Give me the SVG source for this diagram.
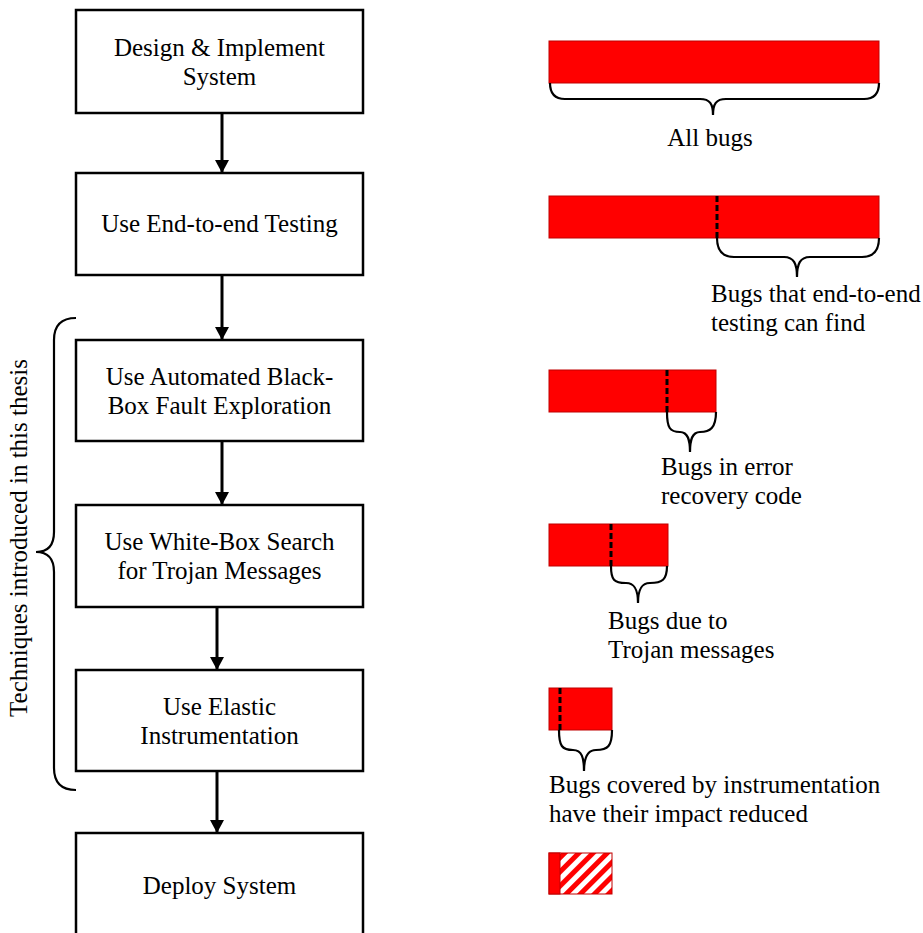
<svg xmlns="http://www.w3.org/2000/svg" width="923" height="933" viewBox="0 0 923 933">
  <style>
    .box { fill: #ffffff; stroke: #000000; stroke-width: 2.5; }
    .lbl { font-family: "Liberation Serif", "Times New Roman", serif; font-size: 25px; fill: #000000; }
    .mid { text-anchor: middle; }
    .edge { stroke: #000000; stroke-width: 3; fill: none; }
    .brace { stroke: #000000; stroke-width: 2.2; fill: none; }
    .bar { fill: #ff0000; stroke: #c00000; stroke-width: 1; }
    .cut { stroke: #000000; stroke-width: 3; stroke-dasharray: 6 3; }
  </style>
  <defs>
    <marker id="arrow" markerWidth="14" markerHeight="14" refX="13" refY="7" orient="auto" markerUnits="userSpaceOnUse">
      <path d="M0,0 L13,7 L0,14 Z" fill="#000000"/>
    </marker>
    <pattern id="hatch" width="10" height="10" patternUnits="userSpaceOnUse" patternTransform="rotate(45)">
      <rect x="0" y="0" width="10" height="10" fill="#ffffff"/>
      <rect x="0" y="0" width="5" height="10" fill="#ff0000"/>
    </pattern>
  </defs>

  <!-- process steps -->
  <g id="step-design">
    <rect class="box" x="76" y="10" width="287" height="103"/>
    <text class="lbl mid" x="219.5" y="56">Design &amp; Implement</text>
    <text class="lbl mid" x="219.5" y="85">System</text>
  </g>
  <g id="step-e2e">
    <rect class="box" x="76" y="173" width="287" height="102"/>
    <text class="lbl mid" x="219.5" y="232">Use End-to-end Testing</text>
  </g>
  <g id="step-blackbox">
    <rect class="box" x="76" y="340" width="287" height="101"/>
    <text class="lbl mid" x="219.5" y="385">Use Automated Black-</text>
    <text class="lbl mid" x="219.5" y="414">Box Fault Exploration</text>
  </g>
  <g id="step-whitebox">
    <rect class="box" x="76" y="505" width="287" height="102"/>
    <text class="lbl mid" x="219.5" y="550">Use White-Box Search</text>
    <text class="lbl mid" x="219.5" y="579">for Trojan Messages</text>
  </g>
  <g id="step-elastic">
    <rect class="box" x="76" y="670" width="287" height="101"/>
    <text class="lbl mid" x="219.5" y="715">Use Elastic</text>
    <text class="lbl mid" x="219.5" y="744">Instrumentation</text>
  </g>
  <g id="step-deploy">
    <rect class="box" x="76" y="833" width="287" height="110"/>
    <text class="lbl mid" x="219.5" y="894">Deploy System</text>
  </g>

  <!-- connectors between steps -->
  <g id="connectors">
    <line class="edge" x1="222" y1="113" x2="222" y2="173" marker-end="url(#arrow)"/>
    <line class="edge" x1="222" y1="275" x2="222" y2="340" marker-end="url(#arrow)"/>
    <line class="edge" x1="222" y1="441" x2="222" y2="505" marker-end="url(#arrow)"/>
    <line class="edge" x1="217" y1="607" x2="217" y2="670" marker-end="url(#arrow)"/>
    <line class="edge" x1="217" y1="771" x2="217" y2="833" marker-end="url(#arrow)"/>
  </g>

  <!-- grouping brace for the thesis techniques -->
  <g id="thesis-group">
    <path class="brace" d="M76,318 Q54,318 54,340 L54,532 Q54,552 36,552 Q54,552 54,572 L54,768 Q54,790 76,790"/>
    <text class="lbl mid" transform="translate(27,538) rotate(-90)">Techniques introduced in this thesis</text>
  </g>

  <!-- bug population bars -->
  <g id="bar-all">
    <rect class="bar" x="549" y="41" width="330" height="42"/>
    <path class="brace" d="M550,83 C550,92 553,99 565,99 L700,99 C710,99 713,104 713,115 C713,104 716,99 726,99 L864,99 C876,99 879,92 879,83"/>
    <text class="lbl mid" x="710" y="146">All bugs</text>
  </g>
  <g id="bar-e2e">
    <rect class="bar" x="549" y="196" width="330" height="42"/>
    <line class="cut" x1="717" y1="196" x2="717" y2="238"/>
    <path class="brace" d="M717,238 C717,250 722,257 734,257 L784,257 C794,257 797,264 797,277 C797,264 800,257 810,257 L862,257 C874,257 879,250 879,238"/>
    <text class="lbl" x="711" y="302">Bugs that end-to-end</text>
    <text class="lbl" x="711" y="331">testing can find</text>
  </g>
  <g id="bar-recovery">
    <rect class="bar" x="549" y="370" width="167" height="42"/>
    <line class="cut" x1="667" y1="370" x2="667" y2="412"/>
    <path class="brace" d="M667,412 C667,428 670,432 680,432 C688,432 690,440 690,452 C690,440 692,432 700,432 C710,432 716,428 716,412"/>
    <text class="lbl" x="661" y="475">Bugs in error</text>
    <text class="lbl" x="661" y="504">recovery code</text>
  </g>
  <g id="bar-trojan">
    <rect class="bar" x="549" y="524" width="119" height="42"/>
    <line class="cut" x1="611" y1="524" x2="611" y2="566"/>
    <path class="brace" d="M611,566 C611,580 614,583 626,583 C635,583 638,590 638,603 C638,590 641,583 650,583 C662,583 667,580 667,566"/>
    <text class="lbl" x="608" y="629">Bugs due to</text>
    <text class="lbl" x="608" y="658">Trojan messages</text>
  </g>
  <g id="bar-instrumented">
    <rect class="bar" x="549" y="688" width="63" height="42"/>
    <line class="cut" x1="560" y1="688" x2="560" y2="730"/>
    <path class="brace" d="M559,730 C559,746 562,750 573,750 C582,750 584,758 584,771 C584,758 587,750 596,750 C608,750 612,746 612,730"/>
    <text class="lbl" x="549" y="793">Bugs covered by instrumentation</text>
    <text class="lbl" x="549" y="822">have their impact reduced</text>
  </g>
  <g id="bar-deployed">
    <rect x="549" y="853" width="63" height="41" fill="url(#hatch)" stroke="#c00000" stroke-width="1"/>
    <rect x="549" y="853" width="11" height="41" fill="#ff0000" stroke="#c00000" stroke-width="1"/>
  </g>
</svg>
